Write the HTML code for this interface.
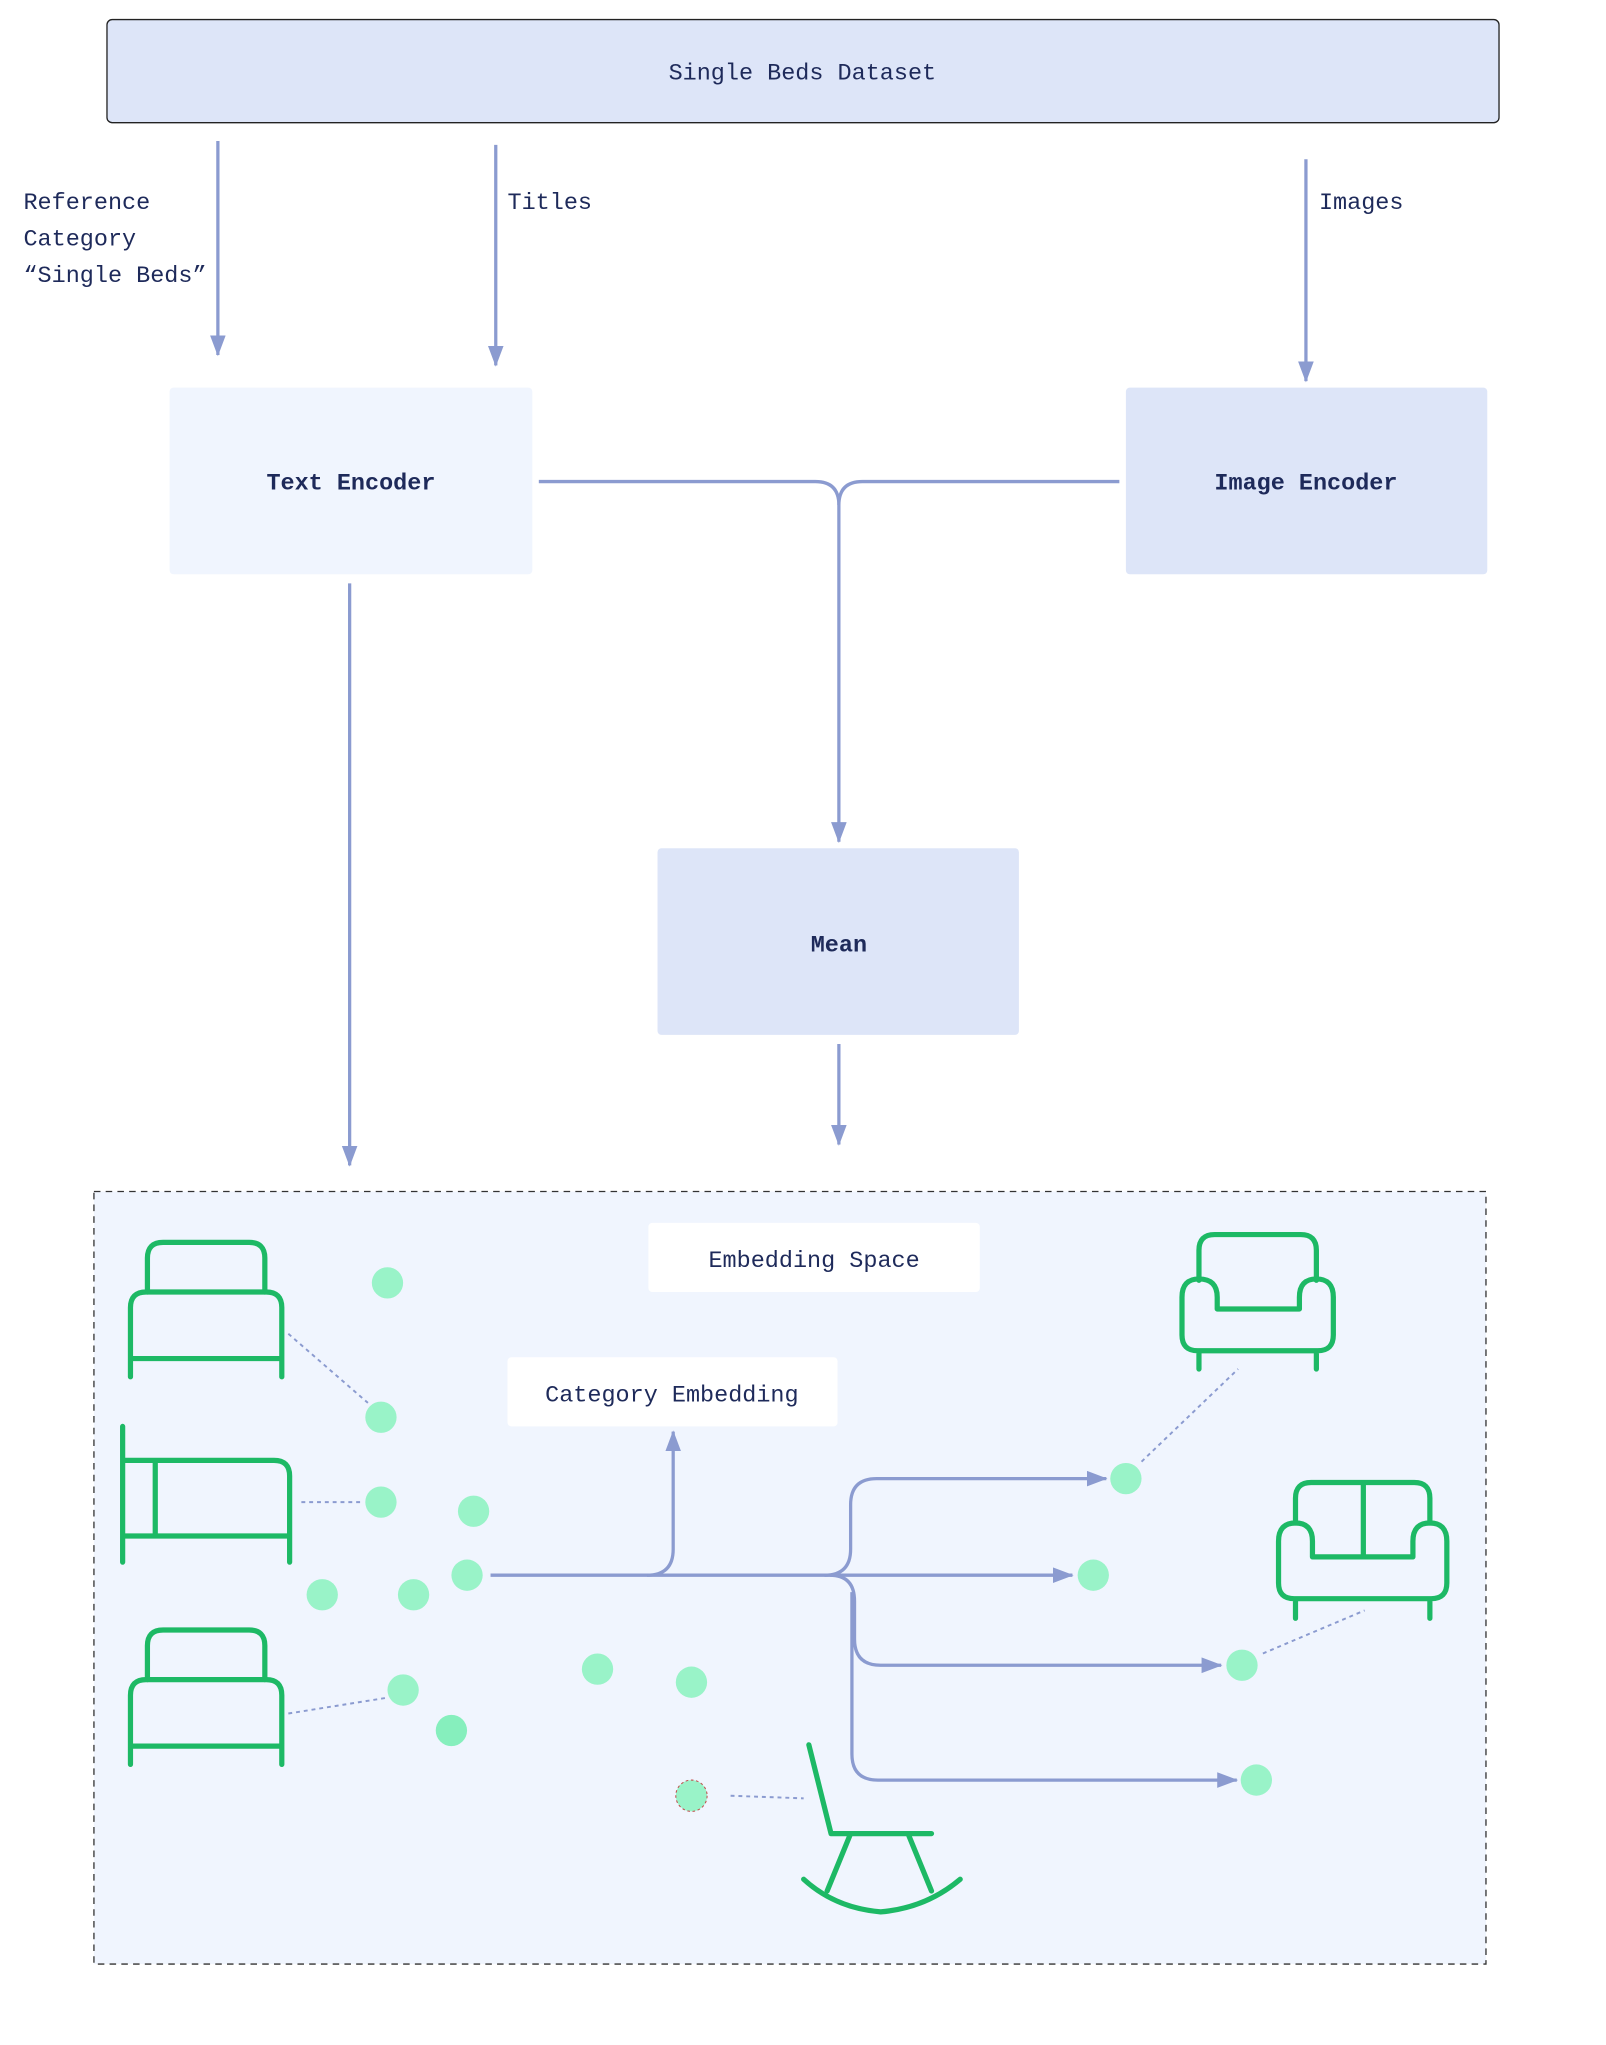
<!DOCTYPE html>
<html><head><meta charset="utf-8"><style>
html,body{margin:0;padding:0;background:#fff;}
svg{display:block;}
text{font-family:"Liberation Mono","DejaVu Sans Mono",monospace;fill:#1e2a5a;}
</style></head><body>
<svg width="1606" height="2045" viewBox="0 0 1231 1567" preserveAspectRatio="none" xmlns="http://www.w3.org/2000/svg">
<defs>
<marker id="b" markerWidth="16" markerHeight="16" refX="15" refY="6" orient="auto" markerUnits="userSpaceOnUse"><path d="M0,0 L16,6 L0,12 Z" fill="#8b9bd0"/></marker>
</defs>
<rect x="82" y="15" width="1067" height="79" rx="4" fill="#dde5f8" stroke="#222" stroke-width="1"/>
<text x="615" y="61" font-size="18" text-anchor="middle">Single Beds Dataset</text>
<g stroke="#8b9bd0" stroke-width="2.5" fill="none">
<line x1="167" y1="108" x2="167" y2="272" marker-end="url(#b)"/>
<line x1="380" y1="111" x2="380" y2="280" marker-end="url(#b)"/>
<line x1="1001" y1="122" x2="1001" y2="292" marker-end="url(#b)"/>
<path d="M413,369 H625 Q643,369 643,387 V645" marker-end="url(#b)"/>
<path d="M858,369 H661 Q643,369 643,387"/>
<line x1="643" y1="800" x2="643" y2="877" marker-end="url(#b)"/>
<line x1="268" y1="447" x2="268" y2="893" marker-end="url(#b)"/>
</g>
<g font-size="18">
<text x="18" y="160">Reference</text>
<text x="18" y="188">Category</text>
<text x="18" y="216">“Single Beds”</text>
<text x="389" y="160">Titles</text>
<text x="1011" y="160">Images</text>
</g>
<rect x="130" y="297" width="278" height="143" rx="3" fill="#f0f5fe"/>
<text x="269" y="375" font-size="18" font-weight="bold" text-anchor="middle">Text Encoder</text>
<rect x="863" y="297" width="277" height="143" rx="3" fill="#dde5f8"/>
<text x="1001" y="375" font-size="18" font-weight="bold" text-anchor="middle">Image Encoder</text>
<rect x="504" y="650" width="277" height="143" rx="3" fill="#dde5f8"/>
<text x="643" y="729" font-size="18" font-weight="bold" text-anchor="middle">Mean</text>

<rect x="72" y="913" width="1067" height="592" fill="#f0f5fe" stroke="#333" stroke-width="1" stroke-dasharray="5,4"/>
<rect x="497" y="937" width="254" height="53" rx="3" fill="#fff"/>
<text x="624" y="971" font-size="18" text-anchor="middle">Embedding Space</text>
<rect x="389" y="1040" width="253" height="53" rx="3" fill="#fff"/>
<text x="515" y="1074" font-size="18" text-anchor="middle">Category Embedding</text>

<g stroke="#8b9bd0" stroke-width="2.5" fill="none">
<line x1="376" y1="1207" x2="822" y2="1207" marker-end="url(#b)"/>
<path d="M496,1207 Q516,1207 516,1187 V1097" marker-end="url(#b)"/>
<path d="M632,1207 Q652,1207 652,1187 V1153 Q652,1133 672,1133 H848" marker-end="url(#b)"/>
<path d="M636,1207 Q655,1207 655,1227 V1256 Q655,1276 675,1276 H936" marker-end="url(#b)"/>
<path d="M653,1220 V1344 Q653,1364 673,1364 H948" marker-end="url(#b)"/>
</g>
<g stroke="#8b9bd0" stroke-width="1.5" stroke-dasharray="3,3" fill="none">
<line x1="221" y1="1022" x2="282" y2="1075"/>
<line x1="231" y1="1151" x2="278" y2="1151"/>
<line x1="221" y1="1313" x2="296" y2="1301"/>
<line x1="560" y1="1376" x2="616" y2="1378"/>
<line x1="875" y1="1120" x2="949" y2="1049"/>
<line x1="968" y1="1267" x2="1046" y2="1234"/>
</g>
<g fill="#99f3c8">
<circle cx="297" cy="983" r="12"/><circle cx="292" cy="1086" r="12"/><circle cx="292" cy="1151" r="12"/>
<circle cx="363" cy="1158" r="12"/><circle cx="358" cy="1207" r="12"/><circle cx="247" cy="1222" r="12"/>
<circle cx="317" cy="1222" r="12"/><circle cx="309" cy="1295" r="12"/><circle cx="346" cy="1326" r="12" fill="#86efbd"/>
<circle cx="458" cy="1279" r="12"/><circle cx="530" cy="1289" r="12"/>
<circle cx="530" cy="1376" r="12" stroke="#c0504d" stroke-width="0.8" stroke-dasharray="2,2"/>
<circle cx="863" cy="1133" r="12"/><circle cx="838" cy="1207" r="12"/><circle cx="952" cy="1276" r="12"/><circle cx="963" cy="1364" r="12"/>
</g>
<g stroke="#1db965" stroke-width="4" fill="none" stroke-linecap="round" stroke-linejoin="round">
<path d="M113,990 V964 Q113,952 125,952 H191 Q203,952 203,964 V990"/>
<path d="M100,1055 V1002 Q100,990 112,990 H204 Q216,990 216,1002 V1055 M100,1041 H216"/>
<path d="M113,1287 V1261 Q113,1249 125,1249 H191 Q203,1249 203,1261 V1287"/>
<path d="M100,1352 V1299 Q100,1287 112,1287 H204 Q216,1287 216,1299 V1352 M100,1338 H216"/>
<path d="M94,1093 V1197 M94,1119 H210 Q222,1119 222,1131 V1197 M94,1177 H222 M119,1119 V1177"/>
<path d="M919,981 V958 Q919,946 931,946 H997 Q1009,946 1009,958 V981"/>
<path d="M933,1003 V994 Q933,980 919,980 Q906,980 906,994 V1023 Q906,1035 918,1035 H1010 Q1022,1035 1022,1023 V994 Q1022,980 1009,980 Q996,980 996,994 V1003 Z M919,1035 V1049 M1009,1035 V1049"/>
<path d="M993,1167 V1148 Q993,1136 1005,1136 H1084 Q1096,1136 1096,1148 V1167 M1045,1136 V1193"/>
<path d="M1006,1193 V1181 Q1006,1167 993,1167 Q980,1167 980,1181 V1213 Q980,1225 992,1225 H1097 Q1109,1225 1109,1213 V1181 Q1109,1167 1096,1167 Q1083,1167 1083,1181 V1193 Z M993,1225 V1240 M1096,1225 V1240"/>
<path d="M620,1337 L637,1405 H714 M652,1405 L634,1449 M696,1405 L714,1449"/>
<path d="M616,1440 Q640,1462 675,1465 Q710,1462 736,1440"/>
</g>
</svg>
</body></html>
